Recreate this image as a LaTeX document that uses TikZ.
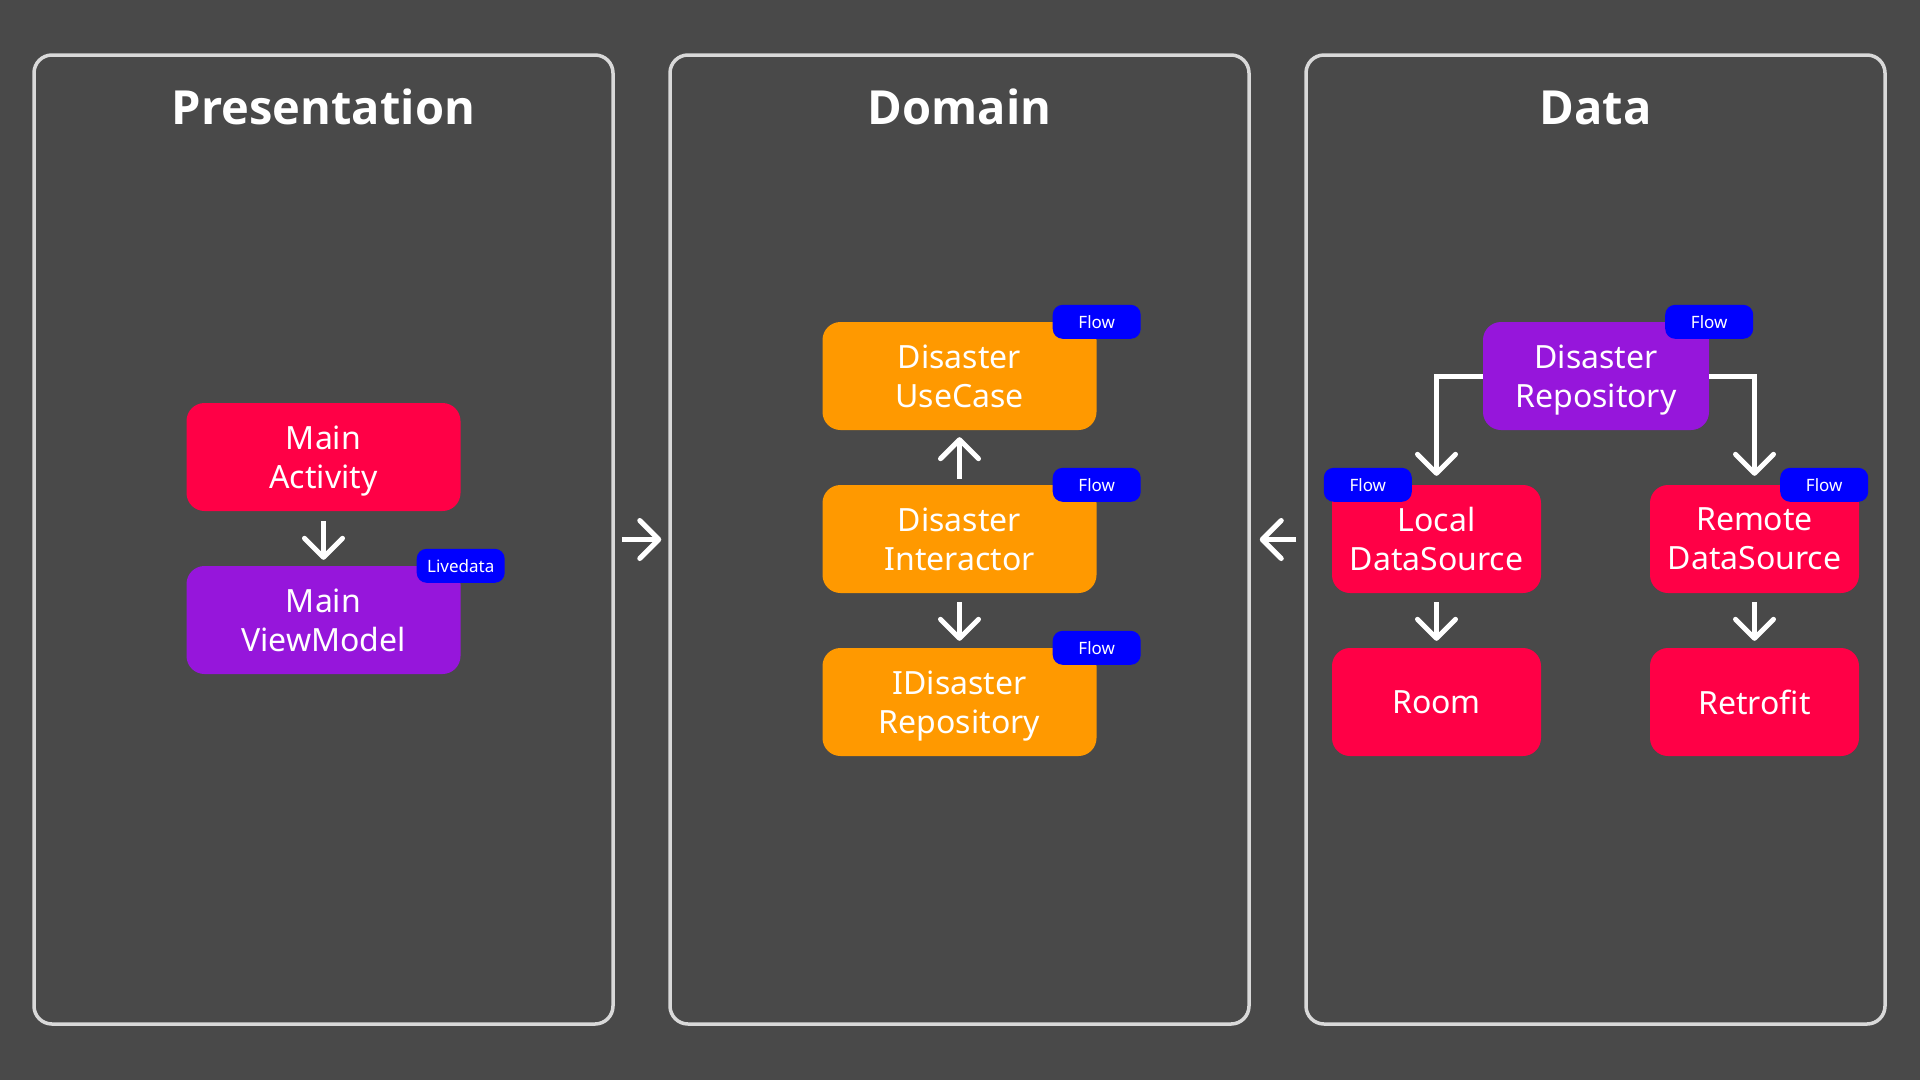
\documentclass[tikz,border=0pt]{standalone}
\usepackage{fontspec}
\setmainfont{Noto Sans}
\newfontfamily\titlefont{Open Sans}
\usetikzlibrary{arrows.meta}
\definecolor{bg}{HTML}{494949}
\definecolor{framecol}{HTML}{D9D9D9}
\definecolor{redbox}{HTML}{FF0046}
\definecolor{purplebox}{HTML}{9616DB}
\definecolor{orangebox}{HTML}{FF9900}
\definecolor{badgeblue}{HTML}{0000FF}
\begin{document}
\begin{tikzpicture}[x=1pt,y=-1pt,
  panel/.style={draw=framecol, line width=3.5pt, rounded corners=18pt, minimum width=579pt, minimum height=969pt, inner sep=0pt},
  paneltitle/.style={text=white, font=\titlefont\fontsize{47}{60}\selectfont\bfseries, anchor=base, inner sep=0pt},
  box/.style={rounded corners=18pt, minimum height=108pt, inner sep=0pt, align=center, text=white, text depth=0pt, font=\fontsize{32}{39}\selectfont},
  widebox/.style={box, minimum width=274pt},
  redb/.style={fill=redbox},
  purpleb/.style={fill=purplebox},
  orangeb/.style={fill=orangebox},
  badge/.style={fill=badgeblue, rounded corners=10pt, minimum width=88pt, minimum height=34pt, inner sep=0pt, text=white, font=\fontsize{17}{20}\selectfont},
  arr/.style={draw=white, line width=5pt, line cap=butt, line join=miter, -{Straight Barb[length=19pt, width=38pt, round]}}
]
\fill[bg] (0,0) rectangle (1920,1080);
\useasboundingbox (0,0) rectangle (1920,1080);

% panels
\node[panel] (p1) at (323.5,539.5) {};
\node[panel] (p2) at (959.5,539.5) {};
\node[panel] (p3) at (1595.5,539.5) {};
\node[paneltitle] (t1) at (323.5,124) {Presentation};
\node[paneltitle] (t2) at (959.5,124) {Domain};
\node[paneltitle] (t3) at (1595.5,124) {Data};

% presentation
\node[widebox, redb] (ma) at (323.5,457) {Main\\Activity};
\node[widebox, purpleb] (mvm) at (323.5,620) {Main\\ViewModel};
\node[badge] (blive) at (mvm.north east) {Livedata};

% domain
\node[widebox, orangeb] (uc) at (959.5,376) {Disaster\\UseCase};
\node[widebox, orangeb] (di) at (959.5,539) {Disaster\\Interactor};
\node[widebox, orangeb] (idr) at (959.5,702) {IDisaster\\Repository};
\node[badge] (buc) at (uc.north east) {Flow};
\node[badge] (bdi) at (di.north east) {Flow};
\node[badge] (bidr) at (idr.north east) {Flow};

% data
\node[box, purpleb, minimum width=226pt] (dr) at (1596,376) {Disaster\\Repository};
\node[box, redb, minimum width=209pt] (lds) at (1436.5,539) {Local\\DataSource};
\node[box, redb, minimum width=209pt] (rds) at (1754.5,539) {Remote\\DataSource};
\node[box, redb, minimum width=209pt] (room) at (1436.5,702) {Room};
\node[box, redb, minimum width=209pt] (retro) at (1754.5,702) {Retrofit};
\node[badge] (bdr) at (dr.north east) {Flow};
\node[badge] (blds) at ([xshift=36pt]lds.north west) {Flow};
\node[badge] (brds) at ([xshift=-35pt]rds.north east) {Flow};

% arrows
\draw[arr] ([yshift=-10pt]ma.south) -- ([yshift=6pt]mvm.north);
\draw[arr] ([yshift=6pt]di.north) -- ([yshift=-7pt]uc.south);
\draw[arr] ([yshift=-9pt]di.south) -- ([yshift=7pt]idr.north);
\draw[arr] ([yshift=-9pt]lds.south) -- ([yshift=7pt]room.north);
\draw[arr] ([yshift=-9pt]rds.south) -- ([yshift=7pt]retro.north);
\draw[arr] (dr.west) -| ([yshift=9pt]lds.north);
\draw[arr] (dr.east) -| ([yshift=9pt]rds.north);
\draw[arr] ([xshift=7pt]p1.east) -- ([xshift=-7pt]p2.west);
\draw[arr] ([xshift=-8pt]p3.west) -- ([xshift=9pt]p2.east);
\end{tikzpicture}
\end{document}
